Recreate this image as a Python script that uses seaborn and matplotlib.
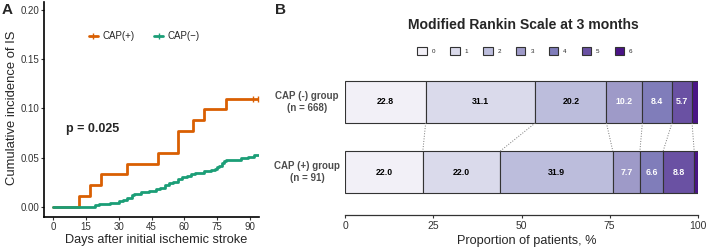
import numpy as np
import pandas as pd
import seaborn as sns
import matplotlib.pyplot as plt
from matplotlib.lines import Line2D
from matplotlib.patches import Patch

# Panel A: cumulative incidence of IS (step curves)
pos_days = [0, 12, 17, 22, 34, 48, 57, 64, 69, 79, 94]
pos_inc = [0, 0.011, 0.022, 0.033, 0.044, 0.055, 0.077, 0.088, 0.099, 0.110, 0.110]
neg_days = [0, 19, 21, 26, 30, 32, 34, 36, 37, 40, 44, 47, 49, 51, 53, 55, 57,
            59, 61, 63, 65, 69, 72, 74, 75, 76, 77, 78, 79, 86, 89, 92, 94]
neg_inc = [0, 0.0015, 0.003, 0.0045, 0.006, 0.0075, 0.009, 0.012, 0.0135, 0.015,
           0.0165, 0.018, 0.0195, 0.0225, 0.024, 0.0255, 0.0285, 0.030, 0.0315,
           0.033, 0.0345, 0.036, 0.0375, 0.039, 0.0405, 0.042, 0.045, 0.0465,
           0.048, 0.0495, 0.051, 0.0525, 0.0525]
pos_censor = [91.5, 93.5]
day_ticks = [0, 15, 30, 45, 60, 75, 90]
inc_ticks = [0.00, 0.05, 0.10, 0.15, 0.20]

# Panel B: modified Rankin Scale distribution (%)
groups = ["CAP (-) group\n(n = 668)", "CAP (+) group\n(n = 91)"]
mrs_levels = ["0", "1", "2", "3", "4", "5", "6"]
mrs_neg = [22.8, 31.1, 20.2, 10.2, 8.4, 5.7, 1.6]
mrs_pos = [22.0, 22.0, 31.9, 7.7, 6.6, 8.8, 1.0]
mrs_colors = ["#f2f0f7", "#dadaeb", "#bcbddc", "#9e9ac8", "#807dba", "#6a51a3", "#4a1486"]

orange = "#d95f02"
green = "#1b9e77"

sns.set_style("ticks")
plt.rcParams["font.family"] = ["Liberation Sans", "DejaVu Sans"]

fig = plt.figure(figsize=(7.08, 2.48), dpi=100)

# ---------- panel A ----------
axA = fig.add_axes([44 / 708, 1 - 217 / 248, 215 / 708, 215 / 248])
km = pd.concat([
    pd.DataFrame({"day": pos_days, "inc": pos_inc, "group": "CAP(+)"}),
    pd.DataFrame({"day": neg_days, "inc": neg_inc, "group": "CAP(\u2212)"}),
])
sns.lineplot(data=km, x="day", y="inc", hue="group", palette=[orange, green],
             drawstyle="steps-post", estimator=None, linewidth=2, legend=False, ax=axA)
axA.plot(pos_censor, [pos_inc[-1]] * len(pos_censor), ls="none", marker="|",
         ms=5, mew=1, color=orange)
axA.set_xlim(-4.1, 94.1)
axA.set_ylim(-0.0102, 0.208)
axA.set_xticks(day_ticks)
axA.set_yticks(inc_ticks)
axA.set_yticklabels([f"{v:.2f}" for v in inc_ticks])
axA.tick_params(labelsize=7, length=2, width=0.8, pad=1.5, color="#333333",
                labelcolor="#333333")
for s in ["left", "bottom"]:
    axA.spines[s].set_linewidth(1.2)
    axA.spines[s].set_color("black")
sns.despine(ax=axA)
axA.set_xlabel("Days after initial ischemic stroke", fontsize=9.2, va="center")
axA.xaxis.set_label_coords(0.52, -0.107)
axA.set_ylabel("Cumulative incidence of IS", fontsize=9.4, va="center")
axA.yaxis.set_label_coords(-0.149, 0.507)
axA.text(6, 0.079, "p = 0.025", fontsize=9, fontweight="bold", va="center")
handles = [Line2D([], [], color=orange, lw=2, marker="|", ms=5, mew=1),
           Line2D([], [], color=green, lw=2, marker="|", ms=5, mew=1)]
axA.legend(handles, ["CAP(+)", "CAP(\u2212)"], loc="center", bbox_to_anchor=(0.465, 0.84),
           ncol=2, frameon=False, fontsize=7, handlelength=1.0, handletextpad=0.4,
           columnspacing=2.0)
fig.text(2 / 708, 1 - 3 / 248, "A", fontsize=11, fontweight="bold", va="top")

# ---------- panel B ----------
axB = fig.add_axes([345.3 / 708, 1 - 215 / 248, 352.4 / 708, 145 / 248])
for yi, vals in enumerate([mrs_neg, mrs_pos]):
    left = 0
    for k, v in enumerate(vals):
        axB.barh(yi, v, left=left, height=0.6, color=mrs_colors[k],
                 edgecolor="#333333", linewidth=0.8)
        if v >= 5:
            axB.text(left + v / 2, yi, f"{v:.1f}", ha="center", va="center",
                     fontsize=6.3, fontweight="bold",
                     color="black" if k < 3 else "white")
        left += v

cum_neg = np.cumsum(mrs_neg)
cum_pos = np.cumsum(mrs_pos)
for k in range(6):
    axB.plot([cum_neg[k], cum_pos[k]], [0.3, 0.7], ls=":", lw=0.7, color="#777777")

axB.set_xlim(0, 100)
axB.set_ylim(1.614, -0.457)
axB.set_xticks([0, 25, 50, 75, 100])
axB.set_yticks([])
axB.tick_params(axis="x", labelsize=7.5, length=2.5, width=0.8, pad=1.5,
                color="#333333", labelcolor="#333333")
for s in ["left", "top", "right"]:
    axB.spines[s].set_visible(False)
axB.spines["bottom"].set_color("#333333")
axB.spines["bottom"].set_linewidth(0.9)
axB.set_xlabel("Proportion of patients, %", fontsize=9.2, va="center")
axB.xaxis.set_label_coords(0.516, -0.179)
for yi, g in enumerate(groups):
    axB.text(-10.9, yi, g, ha="center", va="center", fontsize=7, fontweight="bold",
             color="#4d4d4d", linespacing=1.3)

fig.text(523 / 708, 1 - 25 / 248, "Modified Rankin Scale at 3 months", ha="center",
         va="center", fontsize=10.1, fontweight="bold")
fig.legend([Patch(facecolor=c, edgecolor="#333333", lw=0.8) for c in mrs_colors],
           mrs_levels, loc="center", bbox_to_anchor=(525 / 708, 1 - 51 / 248), ncol=7,
           frameon=False, fontsize=4.5, handlelength=1.5, handleheight=1.5,
           handletextpad=0.8, columnspacing=2.4)
fig.text(275 / 708, 1 - 3 / 248, "B", fontsize=11, fontweight="bold", va="top")

fig.savefig("out.png", dpi=100)
